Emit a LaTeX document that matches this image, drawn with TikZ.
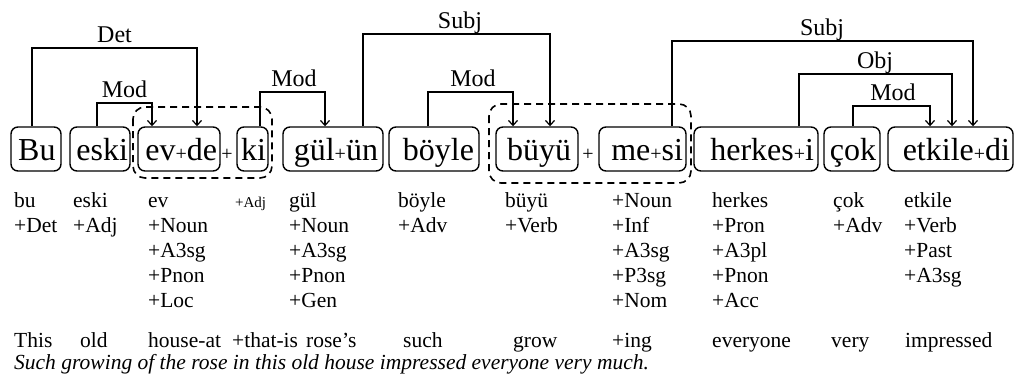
\documentclass[tikz,border=0pt]{standalone}
\usepackage{fontspec}
\setmainfont{Liberation Serif}
\usetikzlibrary{arrows.meta}
\newcommand\pl{{\fontsize{20}{20}\selectfont+}}
\begin{document}
\begin{tikzpicture}[x=1pt,y=1pt,
  wbox/.style 2 args={draw, line width=1.4pt, rounded corners=7pt, minimum height=44pt, inner sep=0pt,
    minimum width=#1, text width=#2, align=right,
    text height=22pt, text depth=0pt, font=\fontsize{32}{36}\selectfont},
  dep/.style={line width=1.2pt, -{Straight Barb[length=5pt,width=9pt]}},
  lab/.style={anchor=base, yshift=5.5pt, inner sep=0pt, font=\fontsize{24}{28}\selectfont},
  lt/.style={anchor=base west, inner sep=0pt, font=\fontsize{21.5}{25}\selectfont},
  dbox/.style={line width=1.6pt, dash pattern=on 7pt off 5pt, rounded corners=12pt}]
\useasboundingbox (0,0) rectangle (1016,-377);
\fill[white] (0,0) rectangle (1016,-377);

% word boxes
\node[wbox={50pt}{39pt}]   (bu)     at (36,-149)    {Bu};
\node[wbox={60pt}{56pt}]   (eski)   at (100,-149)   {eski};
\node[wbox={82pt}{76pt}]   (ev)     at (179,-149)   {ev\pl de};
\node[wbox={31pt}{27pt}]   (ki)     at (252.5,-149) {ki};
\node[wbox={100pt}{90pt}]  (gul)    at (333,-149)   {gül\pl ün};
\node[wbox={90pt}{80pt}]   (boyle)  at (434,-149)   {böyle};
\node[wbox={82pt}{68pt}]   (buyu)   at (537,-149)   {büyü};
\node[wbox={87pt}{81pt}]   (mesi)   at (642.5,-149) {me\pl si};
\node[wbox={124pt}{116pt}] (herkes) at (756,-149)   {herkes\pl i};
\node[wbox={56pt}{48pt}]   (cok)    at (852,-149)   {çok};
\node[wbox={125pt}{119pt}] (etkile) at (950.5,-149) {etkile\pl di};

% free plus signs
\node[anchor=base, inner sep=0pt] (plA) at (227,-160) {\pl};
\node[anchor=base, inner sep=0pt] (plB) at (588,-160) {\pl};

% dashed groups
\draw[dbox] (133,-107) rectangle (272,-178);
\draw[dbox] (489,-104) rectangle (691,-183);

% dependencies
\draw[dep] (32,0 |- bu.north)    |- (114.5,-48) node[lab]{Det}  -| (197,0 |- ev.north);
\draw[dep] (97,0 |- eski.north)  |- (124.5,-103) node[lab]{Mod} -| (152,0 |- ev.north);
\draw[dep] (260,0 |- ki.north)   |- (294,-92) node[lab]{Mod}    -| (325,0 |- gul.north);
\draw[dep] (363,0 |- gul.north)  |- (460,-34) node[lab]{Subj}   -| (550,0 |- buyu.north);
\draw[dep] (428,0 |- boyle.north) |- (473,-92) node[lab]{Mod}   -| (513,0 |- buyu.north);
\draw[dep] (672,0 |- mesi.north) |- (822,-41) node[lab]{Subj}   -| (973,0 |- etkile.north);
\draw[dep] (799,0 |- herkes.north) |- (875,-74) node[lab]{Obj}  -| (952,0 |- etkile.north);
\draw[dep] (853,0 |- cok.north)  |- (893,-106) node[lab]{Mod}   -| (930,0 |- etkile.north);

% morphological analyses
\foreach \t [count=\i] in {bu,+Det}
  \node[lt] (ca\i) at (14,{-207-25.2*(\i-1)}) {\t};
\foreach \t [count=\i] in {eski,+Adj}
  \node[lt] (cb\i) at (73,{-207-25.2*(\i-1)}) {\t};
\foreach \t [count=\i] in {ev,+Noun,+A3sg,+Pnon,+Loc}
  \node[lt] (cc\i) at (148,{-207-25.2*(\i-1)}) {\t};
\node[lt, font=\fontsize{15}{18}\selectfont] (cd1) at (235,-207) {+Adj};
\foreach \t [count=\i] in {gül,+Noun,+A3sg,+Pnon,+Gen}
  \node[lt] (ce\i) at (289,{-207-25.2*(\i-1)}) {\t};
\foreach \t [count=\i] in {böyle,+Adv}
  \node[lt] (cf\i) at (398,{-207-25.2*(\i-1)}) {\t};
\foreach \t [count=\i] in {büyü,+Verb}
  \node[lt] (cg\i) at (505,{-207-25.2*(\i-1)}) {\t};
\foreach \t [count=\i] in {+Noun,+Inf,+A3sg,+P3sg,+Nom}
  \node[lt] (ch\i) at (612,{-207-25.2*(\i-1)}) {\t};
\foreach \t [count=\i] in {herkes,+Pron,+A3pl,+Pnon,+Acc}
  \node[lt] (ci\i) at (712,{-207-25.2*(\i-1)}) {\t};
\foreach \t [count=\i] in {çok,+Adv}
  \node[lt] (cj\i) at (833,{-207-25.2*(\i-1)}) {\t};
\foreach \t [count=\i] in {etkile,+Verb,+Past,+A3sg}
  \node[lt] (ck\i) at (904,{-207-25.2*(\i-1)}) {\t};

% glosses
\node[lt] (g1)  at (14,-347)  {This};
\node[lt] (g2)  at (80,-347)  {old};
\node[lt] (g3)  at (148,-347) {house-at};
\node[lt] (g4)  at (232,-347) {+that-is};
\node[lt] (g5)  at (306,-347) {rose’s};
\node[lt] (g6)  at (403,-347) {such};
\node[lt] (g7)  at (513,-347) {grow};
\node[lt] (g8)  at (612,-347) {+ing};
\node[lt] (g9)  at (712,-347) {everyone};
\node[lt] (g10) at (831,-347) {very};
\node[lt] (g11) at (905,-347) {impressed};

% translation
\node[lt, font=\fontsize{21.5}{25}\selectfont\itshape] (tr) at (14,-369)
  {Such growing of the rose in this old house impressed everyone very much.};
\end{tikzpicture}
\end{document}
